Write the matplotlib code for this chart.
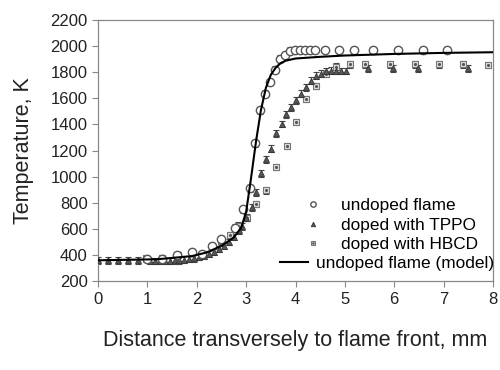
#!/usr/bin/env python3
import matplotlib
matplotlib.use('Agg')
import matplotlib.pyplot as plt

plt.rcParams['font.family'] = ['Liberation Sans', 'DejaVu Sans']

# undoped flame (measured)
x_undoped = [1.0, 1.3, 1.6, 1.9, 2.1, 2.3, 2.5, 2.77, 2.94, 3.07, 3.18, 3.28, 3.38,
             3.48, 3.58, 3.68, 3.79, 3.89, 3.99, 4.09, 4.19, 4.29, 4.39, 4.6, 4.88,
             5.18, 5.57, 6.07, 6.58, 7.06]
t_undoped = [370, 372, 400, 420, 410, 470, 520, 610, 750, 910, 1255, 1508, 1637,
             1726, 1820, 1904, 1930, 1965, 1970, 1970, 1970, 1970, 1970, 1970, 1970,
             1970, 1970, 1970, 1970, 1970]

# doped with TPPO
x_tppo = [0.0, 0.2, 0.41, 0.61, 0.82, 1.05, 1.15, 1.25, 1.35, 1.45, 1.55, 1.65, 1.75,
          1.85, 1.95, 2.05, 2.15, 2.25, 2.35, 2.45, 2.55, 2.65, 2.75, 2.85, 2.92,
          2.99, 3.11, 3.21, 3.30, 3.40, 3.50, 3.60, 3.72, 3.81, 3.91, 4.01, 4.11,
          4.21, 4.31, 4.41, 4.51, 4.62, 4.72, 4.82, 4.92, 5.02, 5.47, 5.97, 6.48,
          7.49]
t_tppo = [360, 360, 360, 360, 360, 355, 355, 355, 355, 355, 360, 360, 365,
          370, 375, 385, 395, 410, 425, 445, 470, 500, 540, 590, 620,
          686, 765, 880, 1026, 1132, 1214, 1332, 1402, 1477, 1531, 1585, 1637,
          1684, 1735, 1773, 1789, 1806, 1813, 1810, 1810, 1810, 1830, 1830, 1830,
          1830]

# doped with HBCD
x_hbcd = [0.98, 1.29, 1.63, 1.90, 2.10, 2.30, 2.50, 2.67, 2.84, 3.01, 3.21, 3.41,
          3.61, 3.82, 4.01, 4.21, 4.41, 4.62, 4.82, 5.11, 5.40, 5.91, 6.42, 6.90,
          7.39, 7.9]
t_hbcd = [375, 378, 400, 425, 405, 470, 505, 555, 625, 686, 790, 895,
          1073, 1235, 1420, 1594, 1695, 1785, 1843, 1860, 1860, 1860, 1860, 1860,
          1860, 1855]

t_err = 25

# undoped flame (model)
x_model = [0, 1.2, 1.9, 2.2, 2.5, 2.75, 2.9, 3.0, 3.1, 3.2, 3.3, 3.4, 3.5, 3.6,
           3.7, 3.8, 4.0, 4.5, 5.0, 6.0, 7.0, 8.0]
t_model = [360, 368, 392, 420, 470, 535, 610, 730, 990, 1270, 1510, 1680, 1780,
           1835, 1870, 1888, 1905, 1918, 1928, 1940, 1948, 1953]

fig = plt.figure(figsize=(5.0, 3.7), dpi=100)
ax = fig.add_axes([0.196, 0.24, 0.79, 0.706])

ebkw = dict(ls='none', ecolor='#444444', elinewidth=0.8, capsize=2, capthick=0.8)

ax.errorbar(x_hbcd, t_hbcd, yerr=t_err, **ebkw, zorder=2)
sq, = ax.plot(x_hbcd, t_hbcd, 's', ms=5, mfc='#e0e0e0', mec='#777777', mew=0.8, zorder=3)
dot, = ax.plot(x_hbcd, t_hbcd, '.', ms=2.5, color='#555555', zorder=3)

ax.errorbar(x_tppo, t_tppo, yerr=t_err, **ebkw, zorder=2)
tri, = ax.plot(x_tppo, t_tppo, '^', ms=5, mfc='#555555', mec='#333333', mew=0.6, zorder=3)

ax.errorbar(x_undoped, t_undoped, yerr=t_err, **ebkw, zorder=2)
circ, = ax.plot(x_undoped, t_undoped, 'o', ms=6, mfc='white', mec='#555555', mew=1.0, zorder=4)

model, = ax.plot(x_model, t_model, '-', color='black', lw=1.5, zorder=5)

ax.set_xlim(0, 8)
ax.set_ylim(200, 2200)
ax.set_xticks(range(0, 9))
ax.set_yticks(range(200, 2201, 200))
ax.tick_params(direction='out', length=4, width=0.8, colors='#888888',
               labelcolor='#222222', labelsize=12)
for s in ax.spines.values():
    s.set_color('#888888')
    s.set_linewidth(0.9)

ax.set_xlabel('Distance transversely to flame front, mm', fontsize=15.5,
              color='#222222', labelpad=17)
ax.set_ylabel('Temperature, K', fontsize=15.5, color='#222222', labelpad=12)

leg1 = ax.legend([circ, tri, (sq, dot)],
                 ['undoped flame', 'doped with TPPO', 'doped with HBCD'],
                 loc='center left', bbox_to_anchor=(0.522, 0.215), frameon=False,
                 fontsize=12.4, handlelength=1.0, handletextpad=1.15,
                 labelspacing=0.25, borderpad=0, borderaxespad=0, markerscale=0.65)
ax.add_artist(leg1)
ax.legend([model], ['undoped flame (model)'], loc='center left',
          bbox_to_anchor=(0.461, 0.069), frameon=False, fontsize=12.4,
          handlelength=1.63, handletextpad=0.47, borderpad=0, borderaxespad=0)

fig.savefig('out.png', dpi=100)
